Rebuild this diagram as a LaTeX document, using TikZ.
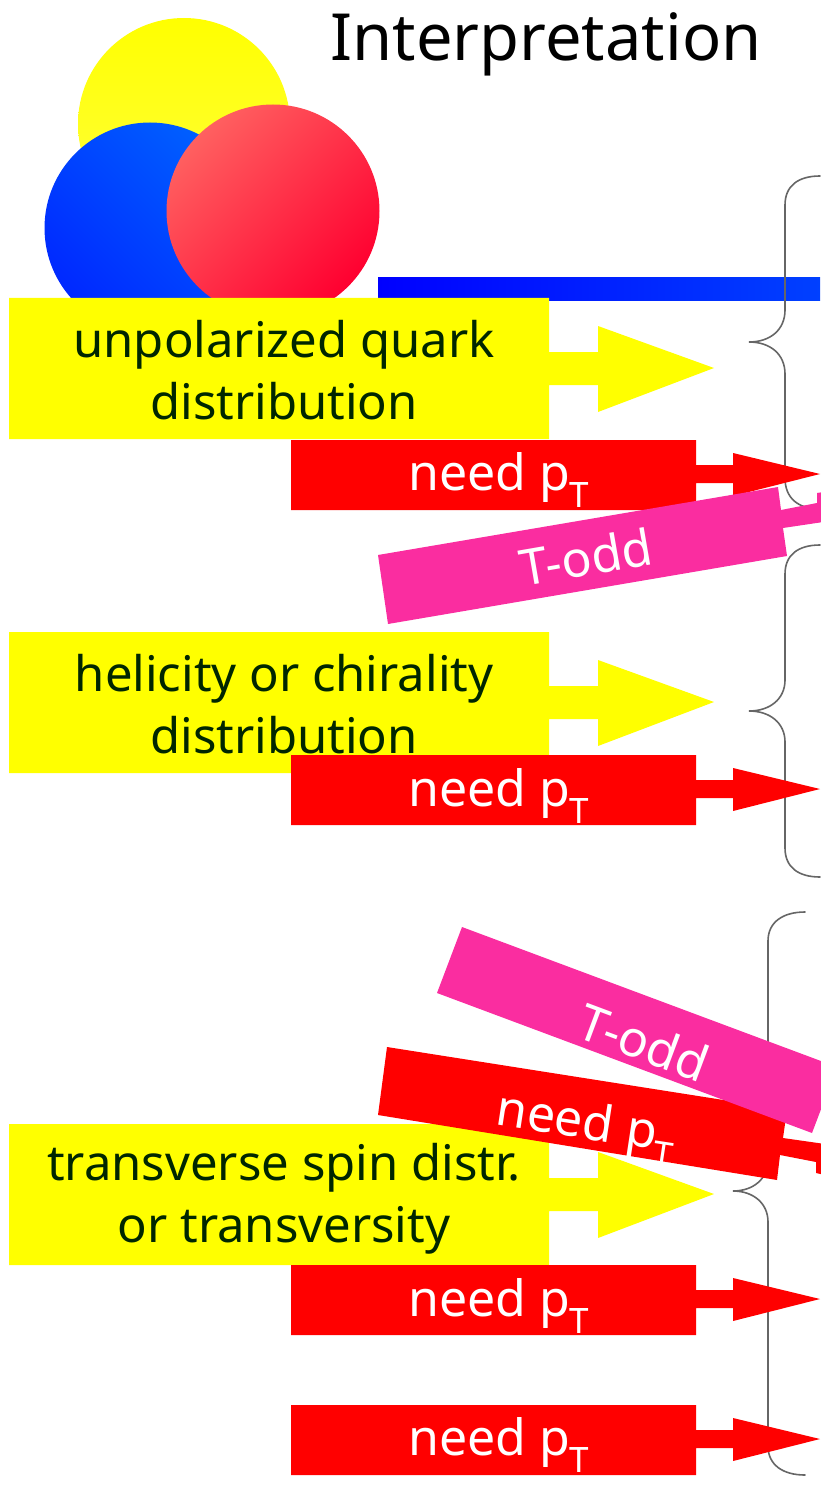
\documentclass[tikz,border=0pt]{standalone}
\usepackage{fontspec}
\setmainfont{Noto Sans}
\begin{document}
\definecolor{calloutyellow}{RGB}{255,255,0}
\definecolor{calloutred}{RGB}{255,0,0}
\definecolor{calloutpink}{RGB}{250,45,160}
\definecolor{ballyellowlow}{RGB}{255,255,64}
\definecolor{ballbluehigh}{RGB}{0,96,255}
\definecolor{ballbluelow}{RGB}{0,40,255}
\definecolor{ballredhigh}{RGB}{255,96,96}
\definecolor{ballredlow}{RGB}{255,0,48}
\definecolor{barblue}{RGB}{0,64,255}
\tikzset{
  ball/.style={shape=circle,inner sep=0pt},
  darktext/.style={font=\fontsize{49}{62}\selectfont,align=center,inner sep=0pt,text=black!85!green},
  lighttext/.style={font=\fontsize{50}{52}\selectfont,inner sep=0pt,text=white},
  bracket/.style={draw=black!60,line width=1.6pt,line cap=round},
}
\begin{tikzpicture}[x=1pt,y=-1pt]
\useasboundingbox (0,0) rectangle (820,1487);

% Quark spheres
\node[ball,minimum size=212pt,top color=calloutyellow,bottom color=ballyellowlow] (qy) at (184,124) {};
\node[ball,minimum size=211pt,top color=ballbluehigh,bottom color=ballbluelow,shading angle=-45] (qb) at (150,228) {};
\node[ball,minimum size=213pt,top color=ballredhigh,bottom color=ballredlow,shading angle=45] (qr) at (273,211) {};

% Blue bar
\shade[left color=blue,right color=barblue] (378,278) rectangle (820,301);

% Title
\node[font=\fontsize{65}{67}\selectfont,inner sep=0pt,anchor=base] (title) at (546,61) {Interpretation};

% Braces
\draw[bracket] (820,176) .. controls (798,176) and (785,186) .. (785,205) -- (785,310)
  .. controls (785,330) and (770,342) .. (749,342) .. controls (770,342) and (785,354) .. (785,374)
  -- (785,478) .. controls (785,498) and (798,509) .. (820,509);
\draw[bracket] (820,545) .. controls (798,545) and (785,555) .. (785,574) -- (785,680)
  .. controls (785,699) and (770,711) .. (749,711) .. controls (770,711) and (785,723) .. (785,742)
  -- (785,848) .. controls (785,867) and (798,877) .. (820,877);
\draw[bracket] (805,912) .. controls (783,912) and (768,922) .. (768,941) -- (768,1160)
  .. controls (768,1179) and (753,1191) .. (733,1191) .. controls (753,1191) and (768,1203) .. (768,1222)
  -- (768,1446) .. controls (768,1465) and (783,1475) .. (805,1475);

% Yellow callouts: box and arrow
\foreach \y in {298,632,1124}{
  \fill[calloutyellow] (9,\y) -- (549,\y) -- (549,\y+54) -- (598,\y+54) -- (598,\y+28)
    -- (714,\y+70) -- (598,\y+114) -- (598,\y+87) -- (549,\y+87) -- (549,\y+141) -- (9,\y+141) -- cycle;
}
\node[darktext] (ya) at (284,370) {unpolarized quark\\distribution};
\node[darktext] (yb) at (284,704) {helicity or chirality\\distribution};
\node[darktext] (yc) at (284,1199) {transverse spin distr.\\or transversity};

% Red callouts: box and arrow
\foreach \y in {440,755,1265,1405}{
  \fill[calloutred] (291,\y) -- (696,\y) -- (696,\y+25) -- (733,\y+25) -- (733,\y+13)
    -- (820,\y+34) -- (733,\y+56) -- (733,\y+43) -- (696,\y+43) -- (696,\y+70) -- (291,\y+70) -- cycle;
}
\node[lighttext] (ra) at (499,480) {need p\textsubscript{T}};
\node[lighttext] (rb) at (499,796) {need p\textsubscript{T}};
\node[lighttext] (rc) at (499,1306) {need p\textsubscript{T}};
\node[lighttext] (rd) at (499,1445) {need p\textsubscript{T}};

% Upper tilted callout, its shaft leaving the page on the right
\fill[calloutpink] (378,555) -- (778,487) -- (781,510) -- (817,503) -- (817,493) -- (830,491)
  -- (830,521) -- (783,528) -- (787,556) -- (388,624) -- cycle;
\node[lighttext,rotate=9.8] (ta) at (586,557) {T-odd};

% Lower tilted callouts
\fill[calloutred] (387,1047) -- (787,1110) -- (783,1138) -- (825,1144) -- (825,1175) -- (816,1173)
  -- (816,1162) -- (780,1155) -- (777,1180) -- (378,1115) -- cycle;
\node[lighttext,rotate=-8.7] (rt) at (586,1128) {need p\textsubscript{T}};
\fill[calloutpink] (462,927) -- (837,1067) -- (812,1133) -- (437,993) -- cycle;
\node[lighttext,rotate=-20.5] (tb) at (644,1042) {T-odd};
\end{tikzpicture}
\end{document}
